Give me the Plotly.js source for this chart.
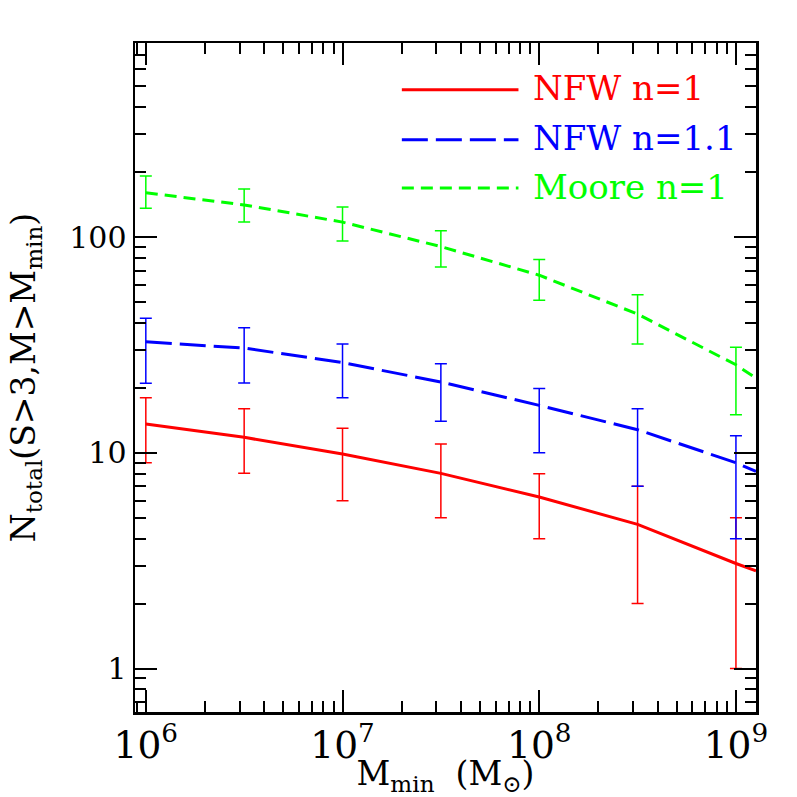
<!DOCTYPE html>
<html>
<head>
<meta charset="utf-8">
<script src="https://cdn.plot.ly/plotly-3.0.1.min.js"></script>
<style>html,body{margin:0;padding:0;background:#fff;}#chart{width:797px;height:797px;}</style>
</head>
<body>
<div id="chart"></div>
<script>
// Minimum halo mass (M_sun) at which counts are measured
const mMin = [1e6, 3.162e6, 1e7, 3.162e7, 1e8, 3.162e8, 1e9];
// line extends to the right frame
const mLine = [1e6, 3.162e6, 1e7, 3.162e7, 1e8, 3.162e8, 1e9, 1.265e9];

// NFW n=1 (red)
const nfw1 = [13.6, 11.8, 9.87, 8.03, 6.24, 4.66, 3.07];
const nfw1Line = [13.6, 11.8, 9.87, 8.03, 6.24, 4.66, 3.07, 2.84];
const nfw1Hi = [18.0, 16.0, 13.0, 11.0, 8.0, 7.0, 5.0];
const nfw1Lo = [9.0, 8.05, 6.0, 5.0, 4.0, 2.0, 1.0];

// NFW n=1.1 (blue)
const nfw11 = [32.7, 30.6, 26.2, 21.3, 16.6, 12.8, 9.0];
const nfw11Line = [32.7, 30.6, 26.2, 21.3, 16.6, 12.8, 9.0, 8.2];
const nfw11Hi = [42.1, 38.0, 32.0, 25.9, 19.9, 16.0, 12.0];
const nfw11Lo = [21.0, 21.1, 18.0, 14.0, 10.0, 7.0, 4.0];

// Moore n=1 (green)
const moore = [160.6, 141, 117.4, 90.4, 66.6, 44, 25.6];
const mooreLine = [160.6, 141, 117.4, 90.4, 66.6, 44, 25.6, 22.2];
const mooreHi = [192, 167, 137.8, 107, 78.7, 54, 30.9];
const mooreLo = [136, 117.5, 96, 72.8, 51, 32, 15.0];

const seriesNames = ['NFW n=1', 'NFW n=1.1', 'Moore n=1'];
const colors = ['#ff0000', '#0000ff', '#00ff00'];
const dashes = ['solid', '26px,8px', '12px,7px'];

const FONT = "'DejaVu Serif', serif";

function diff(a, b) { return a.map((v, i) => v - b[i]); }

const sets = [
  [nfw1, nfw1Line, nfw1Hi, nfw1Lo],
  [nfw11, nfw11Line, nfw11Hi, nfw11Lo],
  [moore, mooreLine, mooreHi, mooreLo]
];

const traces = [];
sets.forEach((s, k) => {
  traces.push({
    x: mMin, y: s[0], type: 'scatter', mode: 'markers',
    marker: {size: 1, color: 'rgba(0,0,0,0)'},
    error_y: {type: 'data', symmetric: false, array: diff(s[2], s[0]), arrayminus: diff(s[0], s[3]),
              color: colors[k], thickness: 1.5, width: 6},
    showlegend: false, hoverinfo: 'skip'
  });
  traces.push({
    x: mLine, y: s[1], type: 'scatter', mode: 'lines', name: seriesNames[k],
    line: {color: colors[k], width: 3, dash: dashes[k]},
    showlegend: false
  });
});

// legend built from shapes + annotations
const legY = [0.9301, 0.8553, 0.7831];
const shapes = [];
const annotations = [];
seriesNames.forEach((n, k) => {
  shapes.push({type: 'line', xref: 'paper', yref: 'paper', x0: 0.4297, x1: 0.6175, y0: legY[k], y1: legY[k],
               line: {color: colors[k], width: 3, dash: dashes[k]}});
  annotations.push({xref: 'paper', yref: 'paper', x: 0.6375, y: legY[k] + 0.002, xanchor: 'left', yanchor: 'middle',
                    text: n, showarrow: false, font: {family: FONT, size: 34, color: colors[k]}});
});

const axisCommon = {
  type: 'log', ticks: 'inside', ticklen: 22, tickwidth: 2, tickcolor: '#000',
  showline: true, linecolor: '#000', linewidth: 2.5, mirror: 'allticks',
  showgrid: false, zeroline: false,
  minor: {ticks: 'inside', ticklen: 11, tickwidth: 2, tickcolor: '#000', showgrid: false},
  tickfont: {family: FONT, size: 30, color: '#000'},
  dtick: 1
};

const layout = {
  width: 797, height: 797,
  margin: {l: 135, r: 41, t: 43, b: 85},
  paper_bgcolor: '#fff', plot_bgcolor: '#fff',
  showlegend: false,
  xaxis: Object.assign({}, axisCommon, {
    range: [5.945, 9.102], exponentformat: 'power',
    title: {text: 'M<sub>min</sub>  (M<sub>⊙</sub>)', font: {family: FONT, size: 33, color: '#000'}, standoff: 6}
  }),
  yaxis: Object.assign({}, axisCommon, {
    range: [-0.2014, 2.9],
    title: {text: 'N<sub>total</sub>(S&gt;3,M&gt;M<sub>min</sub>)', font: {family: FONT, size: 33, color: '#000'}, standoff: 24}
  }),
  shapes: shapes,
  annotations: annotations
};

Plotly.newPlot('chart', traces, layout, {staticPlot: true, displayModeBar: false});
</script>
</body>
</html>
